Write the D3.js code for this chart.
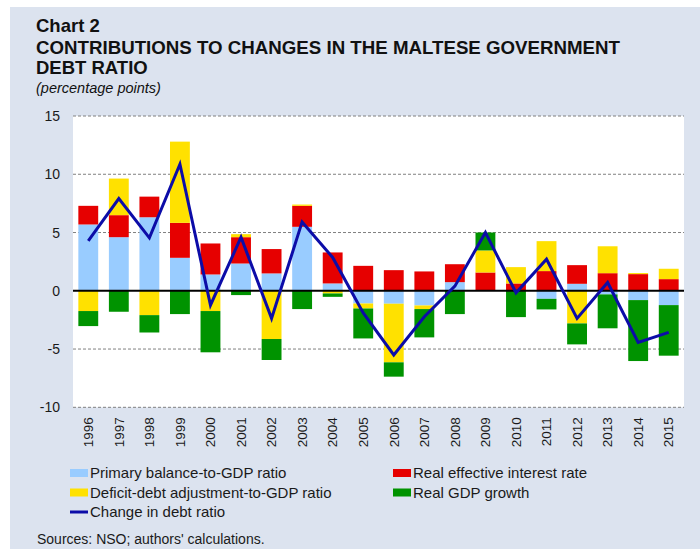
<!DOCTYPE html>
<html><head><meta charset="utf-8">
<script src="https://cdn.jsdelivr.net/npm/d3@7"></script>
<style>body{margin:0;background:#fff}svg{display:block;font-family:"Liberation Sans",Arial,sans-serif}</style>
</head><body><svg id="c" width="700" height="549"></svg>
<script>
const years = ["1996","1997","1998","1999","2000","2001","2002","2003","2004","2005","2006","2007","2008","2009","2010","2011","2012","2013","2014","2015"];
const primaryBalance = [5.69,4.6,6.31,2.83,1.4,2.34,1.49,5.49,0.63,-1.09,-1.11,-1.26,0.74,0,0,-0.69,0.6,-0.31,-0.8,-1.23];
const interestRate = [1.6,1.89,1.77,3.0,2.66,2.26,2.09,1.8,2.66,2.14,1.77,1.66,1.54,1.57,0.63,1.69,1.6,1.51,1.43,1.0];
const deficitDebt = [-1.74,3.14,-2.09,6.97,-1.74,0.26,-4.14,0.11,-0.23,-0.43,-5.03,-0.31,0,1.89,1.4,2.57,-2.8,2.31,0.09,0.89];
const gdpGrowth = [-1.29,-1.8,-1.49,-2.0,-3.54,-0.37,-1.8,-1.57,-0.29,-2.57,-1.23,-2.43,-2.0,1.54,-2.26,-0.91,-1.8,-2.91,-5.23,-4.34];
const debtChange = [4.29,7.91,4.54,10.86,-1.23,4.6,-2.37,5.91,2.86,-1.9,-5.51,-2.23,0.4,5.0,-0.17,2.71,-2.37,0.71,-4.43,-3.57];
const yTicks = [-10,-5,0,5,10,15];

const seriesKeys = ["primary","interest","dda","growth"];
const seriesNames = {primary:"Primary balance-to-GDP ratio",interest:"Real effective interest rate",dda:"Deficit-debt adjustment-to-GDP ratio",growth:"Real GDP growth"};
const colors = {primary:"#99ccff",interest:"#e60000",dda:"#ffe100",growth:"#009300"};
const lineColor = "#0c0ca8";

const rows = years.map((y,i)=>({year:y,primary:primaryBalance[i],interest:interestRate[i],dda:deficitDebt[i],growth:gdpGrowth[i],change:debtChange[i]}));

const svg = d3.select("#c");
svg.append("rect").attr("x",10).attr("y",7).attr("width",690).attr("height",542).attr("fill","#dce3ef");

const pL=73,pR=684,pT=116,pB=407.3;
const x = d3.scaleBand().domain(years).range([pL,pR]).paddingInner(0.35).paddingOuter(0.175);
const y = d3.scaleLinear().domain([-10,15]).range([pB,pT]);

svg.append("rect").attr("x",pL).attr("y",pT).attr("width",pR-pL).attr("height",pB-pT).attr("fill","#fff");

// grid
svg.append("g").selectAll("line").data(yTicks.filter(t=>t!==0)).join("line")
  .attr("x1",pL).attr("x2",pR).attr("y1",d=>y(d)).attr("y2",d=>y(d))
  .attr("stroke","#808080").attr("stroke-width",1).attr("stroke-dasharray","3,2");

// y axis labels
const yAxis = d3.axisLeft(y).tickValues(yTicks).tickSize(0).tickPadding(13).tickFormat(d=>String(d));
const yg = svg.append("g").attr("transform",`translate(${pL},0)`).call(yAxis);
yg.select(".domain").remove();
yg.selectAll("text").attr("font-size",14).attr("fill","#1a1a1a").attr("font-family","'Liberation Sans',Arial,sans-serif");

// stacked bars
const stack = d3.stack().keys(seriesKeys).offset(d3.stackOffsetDiverging);
const stacked = stack(rows);
svg.append("g").selectAll("g").data(stacked).join("g").attr("fill",d=>colors[d.key])
  .selectAll("rect").data(d=>d).join("rect")
  .attr("x",d=>x(d.data.year)).attr("width",x.bandwidth())
  .attr("y",d=>y(Math.max(d[0],d[1]))).attr("height",d=>Math.abs(y(d[0])-y(d[1])));

// zero line
svg.append("line").attr("x1",pL).attr("x2",pR).attr("y1",y(0)).attr("y2",y(0)).attr("stroke","#000").attr("stroke-width",2);

// change line
const line = d3.line().x(d=>x(d.year)+x.bandwidth()/2).y(d=>y(d.change));
svg.append("path").datum(rows).attr("d",line).attr("fill","none").attr("stroke",lineColor).attr("stroke-width",3).attr("stroke-linejoin","miter");

// x labels
const xAxis = d3.axisBottom(x).tickSize(0).tickPadding(0);
const xg = svg.append("g").attr("transform",`translate(0,${pB})`).call(xAxis);
xg.select(".domain").remove();
xg.selectAll("text").attr("font-size",13.5).attr("fill","#1a1a1a").attr("font-family","'Liberation Sans',Arial,sans-serif")
  .attr("text-anchor","end").attr("transform","rotate(-90)").attr("x",-10).attr("y",0).attr("dy","0.35em");

// title
svg.append("text").attr("x",36).attr("y",32).attr("font-size",18.5).attr("font-weight","bold").attr("fill","#111").text("Chart 2");
svg.append("text").attr("x",36).attr("y",53.5).attr("font-size",18.5).attr("font-weight","bold").attr("fill","#111").attr("textLength",584).attr("lengthAdjust","spacingAndGlyphs").text("CONTRIBUTIONS TO CHANGES IN THE MALTESE GOVERNMENT");
svg.append("text").attr("x",36).attr("y",74).attr("font-size",18.5).attr("font-weight","bold").attr("fill","#111").text("DEBT RATIO");
svg.append("text").attr("x",36).attr("y",93).attr("font-size",14.5).attr("font-style","italic").attr("fill","#111").text("(percentage points)");

// legend
const legendItems = [
  {key:"primary",x:70,y:473},
  {key:"interest",x:393,y:473},
  {key:"dda",x:70,y:492.5},
  {key:"growth",x:393,y:492.5}
];
const lg = svg.append("g");
legendItems.forEach(it=>{
  lg.append("rect").attr("x",it.x).attr("y",it.y-4).attr("width",18).attr("height",8).attr("fill",colors[it.key]);
  lg.append("text").attr("x",it.x+20).attr("y",it.y).attr("dy","0.35em").attr("font-size",15).attr("fill","#1a1a1a").text(seriesNames[it.key]);
});
lg.append("line").attr("x1",70).attr("x2",88).attr("y1",512).attr("y2",512).attr("stroke",lineColor).attr("stroke-width",3);
lg.append("text").attr("x",90).attr("y",512).attr("dy","0.35em").attr("font-size",15).attr("fill","#1a1a1a").text("Change in debt ratio");

svg.append("text").attr("x",37).attr("y",539).attr("dy","0.35em").attr("font-size",14).attr("fill","#1a1a1a").text("Sources: NSO; authors' calculations.");
</script></body></html>
